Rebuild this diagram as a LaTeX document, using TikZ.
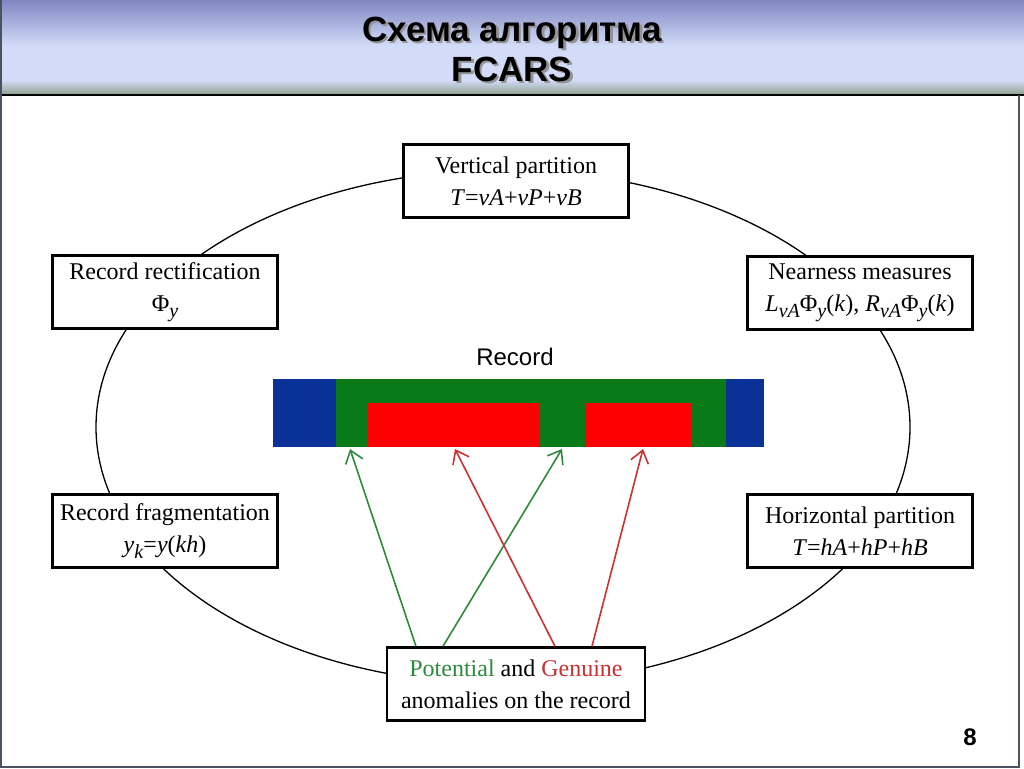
\documentclass[tikz,border=0pt]{standalone}
\usepackage{fontspec}
\setmainfont{Liberation Serif}
\setsansfont{Liberation Sans}
\usetikzlibrary{arrows.meta,calc}
\definecolor{hdrtop}{HTML}{7F87C2}
\definecolor{hdrmid}{HTML}{D2DCF8}
\definecolor{hdrbot}{HTML}{94A494}
\definecolor{framegray}{HTML}{4A5260}
\definecolor{recblue}{HTML}{0A3296}
\definecolor{recgreen}{HTML}{0A7A18}
\definecolor{recred}{HTML}{FF0000}
\definecolor{potgreen}{HTML}{2E8A3A}
\definecolor{genred}{HTML}{C83232}
\newcommand{\mi}[1]{\textit{#1}}
\newcommand{\sbs}[1]{\raisebox{-0.55ex}{\fontsize{10}{10}\selectfont\textit{#1}}}

\begin{document}
\begin{tikzpicture}[x=0.5pt,y=-0.5pt,
  stage/.style={draw,line width=1.2pt,fill=white,minimum width=112.5pt,minimum height=36.5pt,
    align=center,inner sep=1pt,font=\fontsize{12}{16}\selectfont},
  probe/.style={line width=0.8pt,-{Straight Barb[length=6pt,width=9pt]}},
  titletext/.style={align=center,font=\sffamily\bfseries\fontsize{17.5}{20}\selectfont}]
  \useasboundingbox (0,0) rectangle (1024,768);
  % header band
  \shade[top color=hdrtop,bottom color=hdrmid] (0,0) rectangle (1024,46);
  \fill[hdrmid] (0,45) rectangle (1024,81);
  \shade[top color=hdrmid,bottom color=hdrbot] (0,80) rectangle (1024,94);
  \draw[black,line width=1.2pt] (0,95) -- (1024,95);
  \draw[framegray,line width=1pt] (1,0) -- (1,767) -- (1019,767) -- (1019,95);
  % title
  \node[titletext,gray!85] (shadow) at (514.5,51.5) {Схема алгоритма\\FCARS};
  \node[titletext] (title) at (512,49) {Схема алгоритма\\FCARS};
  % cycle
  \draw[line width=0.65pt] (503,427) ellipse [x radius=203.5pt, y radius=128.5pt];
  \node[stage] (vert) at (516,181) {Vertical partition\\\mi{T}=\mi{vA}+\mi{vP}+\mi{vB}};
  \node[stage] (rect) at (165,292) {Record rectification\\Φ\sbs{y}};
  \node[stage] (frag) at (165,531) {Record fragmentation\\\mi{y}\sbs{k}=\mi{y}(\mi{kh})};
  \node[stage] (near) at (860,293) {Nearness measures\\\mi{L}\sbs{vA}Φ\sbs{y}(\mi{k}), \mi{R}\sbs{vA}Φ\sbs{y}(\mi{k})};
  \node[stage] (horz) at (860,531) {Horizontal partition\\\mi{T}=\mi{hA}+\mi{hP}+\mi{hB}};
  \node[stage,minimum width=129pt] (anom) at (516,684) {\textcolor{potgreen}{Potential} and \textcolor{genred}{Genuine}\\anomalies on the record};
  % record bar
  \node[font=\sffamily\fontsize{12}{14}\selectfont] (reclabel) at (515,357) {Record};
  \fill[recblue] (273,379) rectangle (764,447);
  \fill[recgreen] (336,379) rectangle (726,447);
  \fill[recred] (367,403) rectangle (539,447);
  \fill[recred] (585,403) rectangle (691,447);
  \coordinate (g1) at (350,449);
  \coordinate (r1) at (455,449);
  \coordinate (g2) at (562,449);
  \coordinate (r2) at (643,449);
  % arrows to the record
  \draw[probe,potgreen] ($(anom.north)+(-100,0)$) -- (g1);
  \draw[probe,potgreen] ($(anom.north)+(-73,0)$) -- (g2);
  \draw[probe,genred] ($(anom.north)+(39,0)$) -- (r1);
  \draw[probe,genred] ($(anom.north)+(76,0)$) -- (r2);
  \node[font=\sffamily\bfseries\fontsize{12}{14}\selectfont] (page) at (970,737) {8};
\end{tikzpicture}
\end{document}
